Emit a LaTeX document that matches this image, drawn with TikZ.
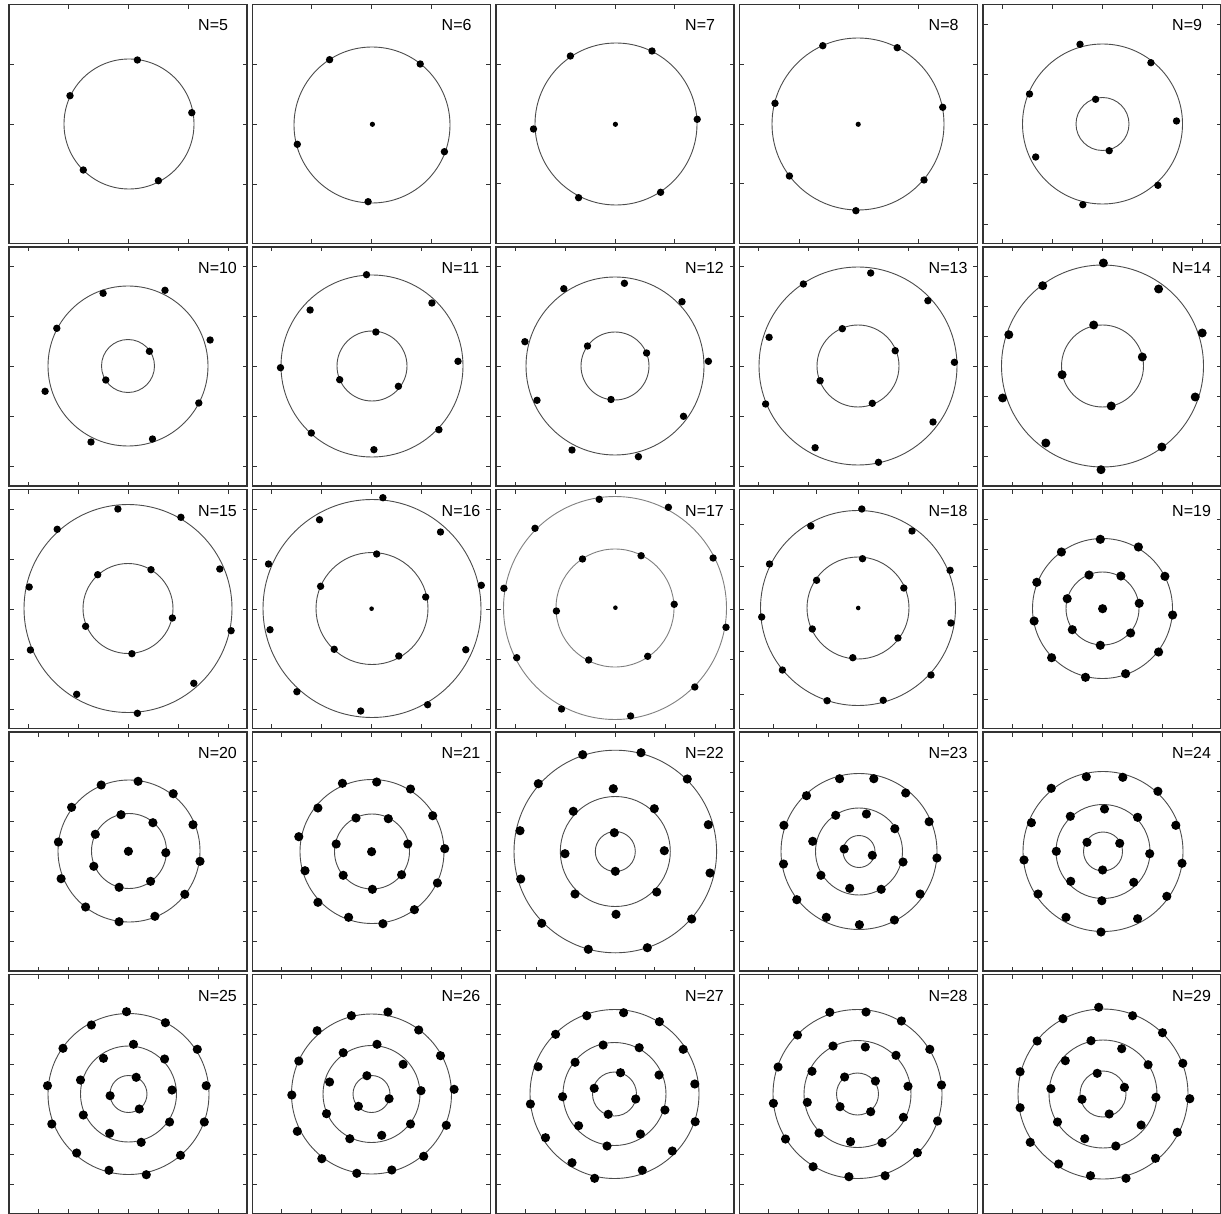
\documentclass[tikz,border=0pt]{standalone}
\usepackage{fontspec}
\setmainfont{Liberation Sans}
\tikzset{
  frame/.style={draw=black!80, line width=1.3pt},
  ring/.style={draw=black!70, line width=0.9pt},
  tk/.style={draw=black!80, line width=0.8pt},
  lbl/.style={anchor=base west, inner sep=0pt, font=\fontsize{16}{16}\selectfont},
  dotc/.style={fill=black}
}
% panel: cx, cy, label, sx, nx, sy, ny
\newcommand{\pnl}[7]{%
  \draw[frame] (#1-119,#2-119.5) rectangle (#1+119,#2+119.5);
  \node[lbl] (lab#3) at (#1+70,#2-93) {N=#3};
  \foreach \k in {-#5,...,#5}{
    \draw[tk] (#1+\k*#4,#2-119.5) -- ++(0,4.5);
    \draw[tk] (#1+\k*#4,#2+119.5) -- ++(0,-4.5);
  }
  \foreach \k in {-#7,...,#7}{
    \draw[tk] (#1-119,#2+\k*#6) -- ++(4.5,0);
    \draw[tk] (#1+119,#2+\k*#6) -- ++(-4.5,0);
  }
}
\newcommand{\rings}[3]{\foreach \r in {#3}{\draw[ring] (#1,#2) circle[radius=\r pt];}}
\newcommand{\pts}[2]{\foreach \x/\y in {#2}{\fill[dotc] (\x,\y) circle[radius=#1pt];}}
\begin{document}
\begin{tikzpicture}[x=1pt,y=-1pt]
\useasboundingbox (0,0) rectangle (1221,1214);
\fill[white] (0,0) rectangle (1221,1214);
% ---------- row 0
\pnl{128}{124}{5}{60}{1}{60}{1}
\rings{129}{124}{65}
\pts{3.7}{137.4/60, 70/95.7, 191.8/112.7, 83.3/170, 158.4/180.7}

\pnl{371.5}{124}{6}{60}{1}{60}{1}
\rings{372}{125}{78}
\pts{3.7}{329.6/59.7, 420.2/64, 297.3/144.3, 444.4/151.7, 368.1/201.7}
\pts{2.6}{372.4/124.3}

\pnl{615}{124}{7}{59.5}{1}{59.5}{1}
\rings{616}{124}{81}
\pts{3.7}{570.4/56, 652/51, 533.5/129, 697.2/119.3, 578.6/197.7, 660.6/192.3}
\pts{2.6}{615.4/124.3}

\pnl{858.5}{124}{8}{59.5}{1}{59.5}{1}
\rings{858}{124}{86}
\pts{3.7}{822.8/45.7, 897.2/47.7, 775/103.3, 942.7/107.3, 789.4/176, 924/180, 855.9/210.7}
\pts{2.6}{858.2/124.3}

\pnl{1102}{124}{9}{50}{2}{50}{2}
\rings{1102.5}{124}{80,26.5}
\pts{3.7}{1080/44.3, 1150.9/62.7, 1029.5/94, 1176.5/121, 1035.7/157, 1157.9/185.3, 1082.8/204.7, 1095.6/99.3, 1109.2/150.7}

% ---------- row 1
\pnl{128}{366.5}{10}{50}{2}{50}{2}
\rings{128}{366}{80,26.5}
\pts{3.7}{103.1/293.3, 165/290.3, 56.8/328.3, 210.1/340, 149.4/351.3, 105.8/380, 45.1/391.3, 198.8/403, 91/442, 152.5/439}

\pnl{371.5}{366.5}{11}{50}{2}{50}{2}
\rings{372}{366}{91,35}
\pts{3.7}{366.5/274.7, 310.1/310, 431.9/303, 375.9/332, 280.5/367.7, 458/361.3, 339.7/379.7, 398.4/386.3, 311.3/433, 438.9/429.7, 373.9/449.7}

\pnl{615}{366.5}{12}{50}{2}{50}{2}
\rings{615}{366}{89,34}
\pts{3.7}{563.8/288.7, 624.4/283.3, 682/301.7, 524.9/341.7, 587.5/346, 646.6/353, 708.4/361.3, 537/400.3, 611/399.5, 683.5/416.3, 572/450, 638.4/456.7}

\pnl{858.5}{366.5}{13}{50}{2}{50}{2}
\rings{858}{366}{99,41}
\pts{3.7}{870.7/273, 803.4/284, 927.9/300.7, 769.1/337.3, 842.3/328.7, 895.2/350.7, 954.4/362.3, 820.1/380.7, 872.3/403.3, 765.6/404, 933/422, 815.1/447.7, 878.5/462.3}

\pnl{1102}{366.5}{14}{30}{3}{30}{3}
\rings{1102.5}{366}{101,41}
\pts{4.5}{1103.4/263, 1042.7/285.7, 1158.6/289, 1008.8/334.7, 1202.2/333, 1093.7/325, 1142.3/357, 1062.1/374.7, 1111.2/406, 1002.6/398, 1195.2/397, 1045.8/443, 1161.8/447, 1101/469.7}

% ---------- row 2
\pnl{128}{609}{15}{50}{2}{50}{2}
\rings{128}{608.5}{104,45}
\pts{3.7}{117.9/509, 180.9/517.3, 57.2/529.3, 219.8/569, 29.2/587, 97.7/574.7, 151/569.7, 172.4/618, 85.6/626.3, 131.9/653.7, 231.1/630.7, 30.4/650, 193.8/683.3, 76.7/694.3, 137.4/713.3}

\pnl{371.5}{609}{16}{50}{2}{50}{2}
\rings{372}{608.5}{109,56}
\pts{3.7}{382.9/497.7, 319.5/519.7, 440.5/532, 268.5/564, 481.3/585.3, 376.7/554, 320.6/586.3, 425.7/597, 270/629.7, 334.2/649.3, 398.8/656, 465.8/649.7, 296.9/691.7, 427.6/704.7, 360.7/711}
\pts{2.3}{371.6/608.7}

\pnl{615}{609}{17}{50}{2}{50}{2}
\begin{scope}[ring/.append style={draw=black!50}]
\rings{615}{608}{111.5,59}
\end{scope}
\pts{3.7}{599.2/499.3, 535/528.3, 503.9/588.3, 516.7/657.7, 561.5/709, 582.5/559, 556.4/611, 588.7/660, 668.4/507.3, 713.1/558, 726/627.3, 694.8/687, 630.6/716, 641.1/555.7, 674.2/604.3, 647.7/656.3}
\pts{2.3}{615.4/607.7}

\pnl{858.5}{609}{18}{42.5}{2}{42.5}{2}
\rings{858}{608}{97.5,51}
\pts{3.7}{861.8/509, 810.8/526, 912/531, 769.5/564, 950.1/570.3, 862.5/558.7, 816.6/580.3, 903.8/588, 761.7/617, 950.9/623, 812.3/629, 897.9/638, 852.8/657.7, 782.4/670, 931/675, 827.1/700.7, 883.2/700.3}
\pts{2.3}{858.2/608}

\pnl{1102}{609}{19}{30}{3}{30}{3}
\rings{1102.5}{608.5}{70,36.5}
\pts{4.6}{1100.3/539.3, 1061.4/552, 1138.4/547, 1036.8/582.3, 1164.9/576.3, 1034.1/621, 1172.6/615, 1051.6/657.7, 1158.6/652, 1085.5/677.3, 1125.6/673.7, 1089/575, 1120.9/576, 1067.2/598.7, 1139.2/603.3, 1072.3/629.7, 1130.6/633, 1100.3/645.3, 1102.6/608.7}

% ---------- row 3
\pnl{128}{851.5}{20}{30}{3}{30}{3}
\rings{129}{851}{71,37.5}
\pts{4.6}{138.1/781.3, 101.2/785, 173.2/793.7, 71.6/807.3, 193/824.7, 58.4/842, 200/861.3, 61.1/878.7, 184.8/894.3, 85.6/907, 154.9/916.3, 119.1/921.7, 121/814.7, 152.9/822.7, 95.3/834.3, 165.8/852.7, 93.8/866.3, 150.6/881.3, 119.1/887.3, 128.4/851.3}

\pnl{371.5}{851.5}{21}{30}{3}{30}{3}
\rings{372}{851.5}{72,37.5}
\pts{4.6}{376.7/782, 342.4/783.3, 410.5/789, 317.9/808, 432.7/815.7, 298.8/836.7, 444.7/848.7, 305/870.7, 437.4/883, 317.9/902.3, 414.4/909.7, 348.6/917.3, 382.9/923.7, 356/818, 388.3/818.7, 336.2/844, 407.8/844, 343.2/875.3, 401.6/874.7, 372.4/889.3, 371.6/851.7}

\pnl{615}{851.5}{22}{39.5}{2}{39.5}{2}
\rings{615.3}{851.5}{101.3,55,20}
\pts{4.6}{582.7/754.7, 538.3/783.7, 520/830.7, 520.7/879, 541.7/923.3, 588.3/949.3, 641/752.7, 687.3/779, 708.3/824.7, 710/873, 691.7/919, 647.3/947.7, 573.3/811.3, 565/853.7, 575/894, 613.3/788.7, 654.3/808.7, 664.3/850.7, 656.7/892, 616/914.3, 614.3/832.7, 615.3/871.3}

\pnl{858.5}{851.5}{23}{30}{3}{30}{3}
\rings{859}{851.5}{78,43.5,16}
\pts{4.6}{839.6/778.7, 873.8/778.7, 806.5/795.7, 905.7/793, 783.9/825.3, 929.1/821.7, 783.5/864, 936.9/858, 796.8/899.7, 920.1/894, 826.3/917.3, 894.4/920, 859.4/924.7, 835.7/815.3, 866.4/814, 812.7/841.3, 894.8/828.7, 820.9/875.3, 903/862, 849.7/888.3, 881.2/889.3, 844.2/849, 872.3/855.3}

\pnl{1102}{851.5}{24}{30}{3}{30}{3}
\rings{1103}{851.5}{80,47,19.5}
\pts{4.6}{1086.3/776.7, 1122.8/777.3, 1051.2/788.3, 1157.9/791.3, 1031.4/822.7, 1175.8/825.3, 1024/860, 1182/863.3, 1038/894, 1166.8/896.3, 1066/917.3, 1137.6/918.7, 1101/932, 1104.5/809, 1070.3/816.3, 1137.6/817.3, 1056.3/851.3, 1149.7/853.7, 1070.7/881.3, 1133.7/882.3, 1101.8/900.7, 1087/842.3, 1119.7/843.3, 1102.6/870}

% ---------- row 4
\pnl{128}{1094}{25}{30}{3}{30}{3}
\rings{128.5}{1094}{80.5,48,18.5}
\pts{4.6}{126.5/1011.7, 91.4/1025, 165.4/1022.7, 63/1048.3, 197.3/1049.3, 47.5/1085.7, 206.2/1085.7, 51.8/1124, 204.3/1122, 76.7/1153, 180.5/1155.3, 109/1170.3, 146.3/1174.7, 133.5/1044.3, 103.5/1058.3, 164.6/1059, 80.5/1080, 172/1090, 83.3/1115, 169.6/1122, 109.7/1133.3, 141.2/1142.3, 136.2/1077.3, 110.1/1095.7, 139.3/1109}

\pnl{371.5}{1094}{26}{30}{3}{30}{3}
\rings{371.5}{1094}{80,48.5,18.5}
\pts{4.6}{351.4/1015.7, 387.9/1012, 317.1/1030.7, 418.7/1030, 298.8/1061, 440.5/1055.7, 291.8/1095, 454.1/1089.3, 297.3/1131.3, 446.3/1125.3, 321.8/1158.7, 423.7/1156.3, 356.8/1173.3, 391.8/1170, 377/1044.3, 343.2/1052.7, 403.1/1064.3, 329.6/1082, 421/1090.7, 326.5/1113.7, 410.5/1124, 349.8/1138.7, 381.7/1135.3, 366.9/1075.7, 389.1/1098.7, 358.4/1106.3}

\pnl{615}{1094}{27}{30}{3}{30}{3}
\rings{614.5}{1094}{84.5,51.5,22}
\pts{4.6}{586.8/1015.7, 555.6/1034.3, 538.1/1066.7, 530.4/1104, 545.5/1137.7, 572/1162.7, 594.6/1178.3, 623.6/1012.7, 659.4/1021.7, 683.2/1049.3, 694.8/1084, 695.2/1121.7, 672.3/1151, 642.3/1170.3, 603.1/1045, 575.1/1062.3, 562.6/1096.7, 578.6/1125.7, 607/1146, 639.2/1047.7, 659/1075, 664.9/1110, 640.4/1134, 594.2/1088.3, 608.2/1114.3, 620.5/1072.7, 635.7/1099}

\pnl{858.5}{1094}{28}{30}{3}{30}{3}
\rings{857.5}{1094}{84.5,53.5,21}
\pts{4.6}{829.8/1012.3, 866/1012, 901.4/1021, 797.5/1035, 929.8/1049.3, 778.1/1067, 941.5/1085, 773.4/1103.3, 937.6/1121, 785.5/1139, 917.4/1152.7, 813.1/1166.7, 885.1/1175.7, 848.9/1176.7, 833/1046, 865.3/1047, 896/1055.3, 812/1071.3, 908/1086.3, 807.3/1102.3, 903.4/1117.3, 819/1133, 850.5/1141.7, 882/1142.7, 844.6/1077, 875.4/1081, 840/1106.7, 870.7/1111.7}

\pnl{1102}{1094}{29}{30}{3}{30}{3}
\rings{1103}{1094}{85,54,23}
\pts{4.6}{1098.7/1007.3, 1132.6/1015.7, 1062.9/1018.7, 1162.5/1032.7, 1037.2/1041, 1182.8/1063.3, 1020.1/1071.7, 1189.8/1098.7, 1020.1/1107.7, 1177.3/1132.3, 1030.2/1142.3, 1155.5/1158.3, 1058.6/1164, 1090.5/1175.7, 1126/1178.3, 1091/1040.7, 1121.7/1048.7, 1065.3/1060.7, 1148.1/1064.7, 1050.9/1088.7, 1155.9/1097.3, 1057.5/1122, 1141.1/1125, 1084.7/1138.7, 1115.8/1146, 1097.2/1073.3, 1124.4/1087.3, 1082/1099.3, 1109.2/1114}
\end{tikzpicture}
\end{document}
